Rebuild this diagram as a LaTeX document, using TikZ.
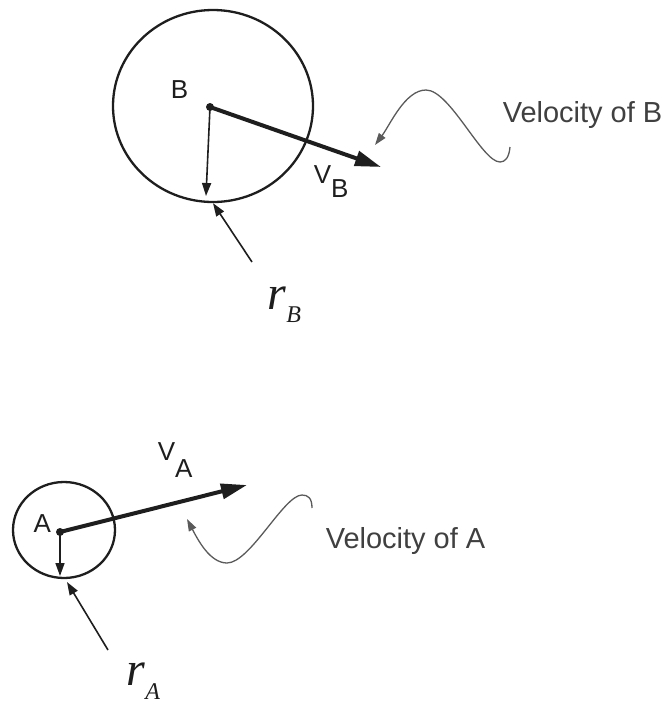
\documentclass[tikz,border=0pt]{standalone}
\usepackage{fontspec}
\setmainfont{Liberation Sans}
\newfontfamily\serifit{Liberation Serif}
\usetikzlibrary{arrows.meta, shapes.geometric}
\definecolor{cink}{HTML}{1E1E1E}
\definecolor{cgrey}{HTML}{404040}
\definecolor{cwire}{HTML}{5A5A5A}
\tikzset{
  every picture/.style={x=1pt, y=-1pt, line width=1.5pt},
  wheel/.style={draw=cink, ellipse, line width=2.3pt, inner sep=0pt},
  centre/.style={fill=cink, circle, inner sep=0pt, minimum size=8pt},
  velo/.style={-{Triangle[length=26pt, width=15pt]}, draw=cink, line width=4pt},
  radius/.style={-{Triangle[length=13pt, width=9pt]}, draw=cink, line width=1.6pt},
  squig/.style={-{Triangle[length=12pt, width=8pt]}, draw=cwire, line width=1.3pt},
  lbl/.style={anchor=base west, inner sep=0pt, text=cink, font=\fontsize{26}{30}\selectfont},
  note/.style={anchor=base west, inner sep=0pt, text=cgrey, font=\fontsize{29}{34}\selectfont},
  rlbl/.style={anchor=base west, inner sep=0pt, text=cink, font=\serifit\itshape\fontsize{48}{50}\selectfont},
}

\begin{document}
\begin{tikzpicture}
  \useasboundingbox (0,0) rectangle (669,705);
  % body B
  \node[wheel, minimum width=200pt, minimum height=192pt] (wheelB) at (213,106) {};
  \node[centre] (dotB) at (210,107) {};
  \node[lbl] (nameB) at (170,98) {B};
  \coordinate (radB) at (206,196);
  \coordinate (tipVB) at (381,167);
  \draw[radius] (dotB.center) -- (radB);
  \draw[velo] (dotB.center) -- (tipVB);
  \node[lbl] (labVB) at (313,183) {V\raisebox{-14pt}{B}};
  \node[rlbl] (labrB) at (267,309) {r\raisebox{-13pt}{\fontsize{24}{24}\selectfont B}};
  \coordinate (ptrB) at (252,262);
  \draw[radius] (ptrB) -- (wheelB.south);
  % velocity of B note
  \node[note] (velB) at (502,122) {Velocity of B};
  \coordinate (sqB) at (510,147);
  \coordinate (sqBtip) at (375,145);
  \draw[squig] (sqB) .. controls (509,158) and (505,162) .. (500,162)
    .. controls (482,162) and (450,90) .. (426,90)
    .. controls (405,90) and (390,125) .. (sqBtip);
  % body A
  \node[wheel, minimum width=102pt, minimum height=96pt] (wheelA) at (64,530) {};
  \node[centre] (dotA) at (60,532) {};
  \node[lbl] (nameA) at (33,532) {A};
  \coordinate (radA) at (60,576);
  \coordinate (tipVA) at (247,485);
  \draw[radius] (dotA.center) -- (radA);
  \draw[velo] (dotA.center) -- (tipVA);
  \node[lbl] (labVA) at (157,460) {V\raisebox{-17pt}{A}};
  \node[rlbl] (labrA) at (126,685) {r\raisebox{-14pt}{\fontsize{24}{24}\selectfont A}};
  \coordinate (ptrA) at (108,650);
  \coordinate (ptrAtip) at (67,582);
  \draw[radius] (ptrA) -- (ptrAtip);
  % velocity of A note
  \node[note] (velA) at (325,548) {Velocity of A};
  \coordinate (sqA) at (312,508);
  \coordinate (sqAtip) at (187,519);
  \draw[squig] (sqA) .. controls (312,498) and (308,495) .. (302,495)
    .. controls (284,495) and (250,563) .. (227,563)
    .. controls (210,563) and (198,540) .. (sqAtip);
\end{tikzpicture}
\end{document}
